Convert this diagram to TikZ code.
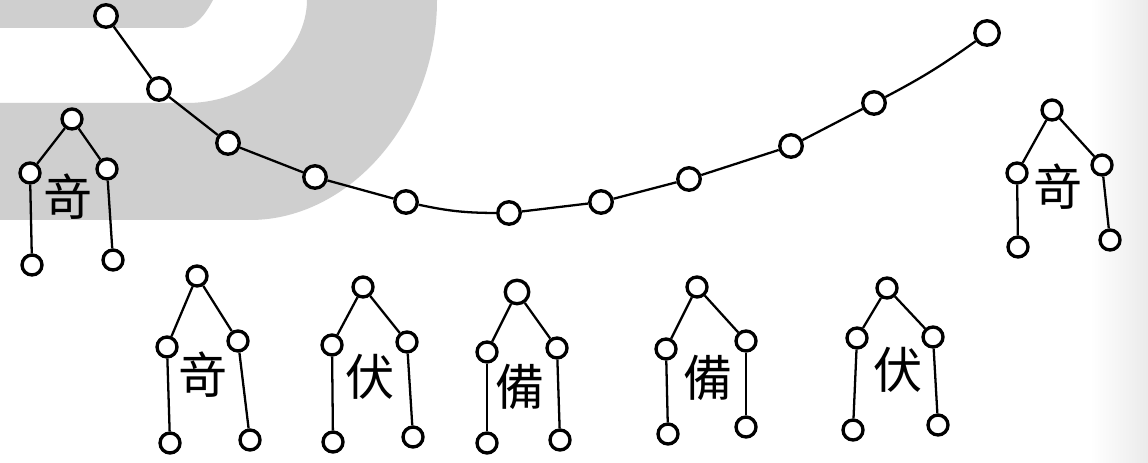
\documentclass[tikz,border=0pt]{standalone}
\usepackage{fontspec}
\newfontfamily\cjk{Noto Sans CJK TC}
\begin{document}
\begin{tikzpicture}[x=0.2mm, y=-0.2mm,
  vertex/.style={circle, draw, line width=1.9pt, fill=white, minimum size=4.5mm, inner sep=0pt},
  soldier/.style={vertex, minimum size=4.0mm},
  edge/.style={line width=1.3pt},
  banner/.style={font=\cjk\fontsize{28}{28}\selectfont, inner sep=0pt},
  shade/.style={fill=black!19, draw=none},
]

\useasboundingbox (0,0) rectangle (1148,463);
\fill[white] (0,0) rectangle (1148,463);
\shade[left color=white, right color=black!8] (1090,0) rectangle (1148,463);

\path[shade] (0,0) -- (213,0) .. controls (205,15) and (195,28) .. (182,28) -- (0,28) -- cycle;
\path[shade] (307,0) -- (437,0) .. controls (437,120) and (350,220) .. (250,220) -- (0,220)
  -- (0,103) -- (187,103) .. controls (255,103) and (307,50) .. (307,0) -- cycle;

\node[vertex] (c1) at (106,16) {};
\node[vertex] (c2) at (159,89) {};
\node[vertex] (c3) at (228,143) {};
\node[vertex] (c4) at (315,177) {};
\node[vertex] (c5) at (406,202) {};
\node[vertex] (c6) at (509,213) {};
\node[vertex] (c7) at (601,202) {};
\node[vertex] (c8) at (689,179) {};
\node[vertex] (c9) at (791,146) {};
\node[vertex] (c10) at (874,103) {};
\node[vertex, minimum size=4.9mm] (c11) at (987,33) {};

\node[soldier] (l1) at (72,119) {};
\node[soldier] (l2) at (30,173) {};
\node[soldier] (l3) at (107,169) {};
\node[soldier] (l4) at (32,265) {};
\node[soldier] (l5) at (113,260) {};
\node[banner] (lch) at (68,197) {竒};

\node[soldier] (r1) at (1052,110) {};
\node[soldier] (r2) at (1017,173) {};
\node[soldier] (r3) at (1102,165) {};
\node[soldier] (r4) at (1018,247) {};
\node[soldier] (r5) at (1110,240) {};
\node[banner] (rch) at (1058,187) {竒};

\node[soldier] (a1) at (197,276) {};
\node[soldier] (a2) at (167,347) {};
\node[soldier] (a3) at (238,341) {};
\node[soldier] (a4) at (170,443) {};
\node[soldier] (a5) at (250,440) {};
\node[banner] (ach) at (203,375) {竒};

\node[soldier] (b1) at (363,287) {};
\node[soldier] (b2) at (332,345) {};
\node[soldier] (b3) at (407,342) {};
\node[soldier] (b4) at (333,442) {};
\node[soldier] (b5) at (413,437) {};
\node[banner] (bch) at (370,377) {伏};

\node[soldier, minimum size=4.7mm] (d1) at (517,292) {};
\node[soldier] (d2) at (487,352) {};
\node[soldier] (d3) at (557,348) {};
\node[soldier] (d4) at (487,443) {};
\node[soldier] (d5) at (560,440) {};
\node[banner] (dch) at (520,387) {備};

\node[soldier] (e1) at (697,287) {};
\node[soldier] (e2) at (666,349) {};
\node[soldier] (e3) at (746,341) {};
\node[soldier] (e4) at (668,434) {};
\node[soldier] (e5) at (746,427) {};
\node[banner] (ech) at (708,378) {備};

\node[soldier] (f1) at (887,288) {};
\node[soldier] (f2) at (857,338) {};
\node[soldier] (f3) at (933,337) {};
\node[soldier] (f4) at (853,430) {};
\node[soldier] (f5) at (938,425) {};
\node[banner] (fch) at (898,370) {伏};

\draw[edge] (c1) -- (c2);
\draw[edge] (c2) -- (c3);
\draw[edge] (c3) -- (c4);
\draw[edge] (c4) -- (c5);
\draw[edge] (c5) to[bend right=6] (c6);
\draw[edge] (c6) -- (c7);
\draw[edge] (c7) -- (c8);
\draw[edge] (c8) -- (c9);
\draw[edge] (c9) -- (c10);
\draw[edge] (c10) to[bend right=4] (c11);

\foreach \f in {l, r, a, b, d, e, f} {
  \draw[edge] (\f1) -- (\f2);
  \draw[edge] (\f1) -- (\f3);
  \draw[edge] (\f2) -- (\f4);
  \draw[edge] (\f3) -- (\f5);
}

\end{tikzpicture}
\end{document}
